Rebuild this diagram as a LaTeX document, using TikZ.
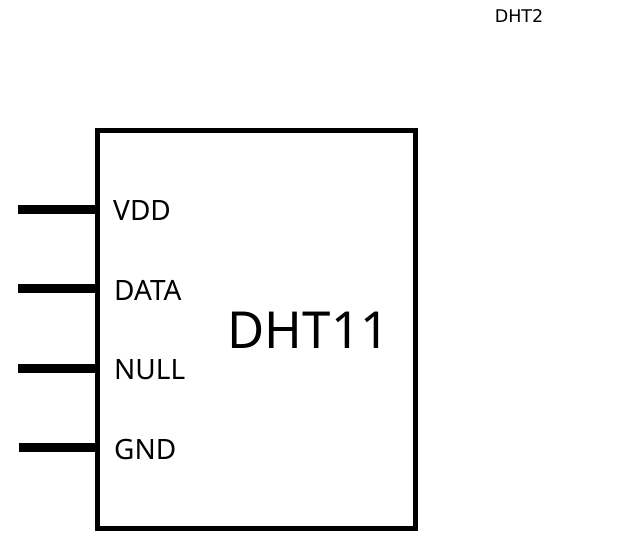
\documentclass[tikz,border=0pt]{standalone}
\usepackage{fontspec}
\setmainfont{DejaVu Sans}
\newfontfamily\pinfont{Noto Sans}
\tikzset {
  % chip outline
  chip/.style = {draw, line width=5pt, inner sep=0pt, outer sep=0pt, anchor=north west},
  % pins on the left side
  pin wire/.style = {line width=9pt},
  pin label/.style = {font=\pinfont\fontsize{28}{28}\selectfont, anchor=base west, inner sep=0pt},
}
\begin{document}
\begin{tikzpicture}[x=1pt, y=-1pt]
      \useasboundingbox (0, 0) rectangle (627, 546);
      \fill[white] (0, 0) rectangle (627, 546);

      \node[chip, minimum width=318pt, minimum height=398pt] (chip) at (97.5, 130) {};

      \coordinate (p1) at (18, 209.5);
      \coordinate (p2) at (18, 288.5);
      \coordinate (p3) at (18, 368.5);
      \coordinate (p4) at (19, 447.5);
      \coordinate (q1) at (97.5, 209.5);
      \coordinate (q2) at (97.5, 288.5);
      \coordinate (q3) at (97.5, 368.5);
      \coordinate (q4) at (97.5, 447.5);

      \draw [pin wire] (p1) -- (q1);
      \draw [pin wire] (p2) -- (q2);
      \draw [pin wire] (p3) -- (q3);
      \draw [pin wire] (p4) -- (q4);

      \node[pin label] (vdd) at (113, 220) {VDD};
      \node[pin label] (data) at (114, 300) {DATA};
      \node[pin label] (null) at (114, 379.5) {NULL};
      \node[pin label] (gnd) at (114, 459.3) {GND};

      \node[font=\pinfont\fontsize{51}{51}\selectfont, inner sep=0pt] (name) at (308.5, 330) {DHT11};
      \node[font=\fontsize{17.5}{17.5}\selectfont, inner sep=0pt] (title) at (519, 16) {DHT2};
    \end{tikzpicture}
\end{document}
